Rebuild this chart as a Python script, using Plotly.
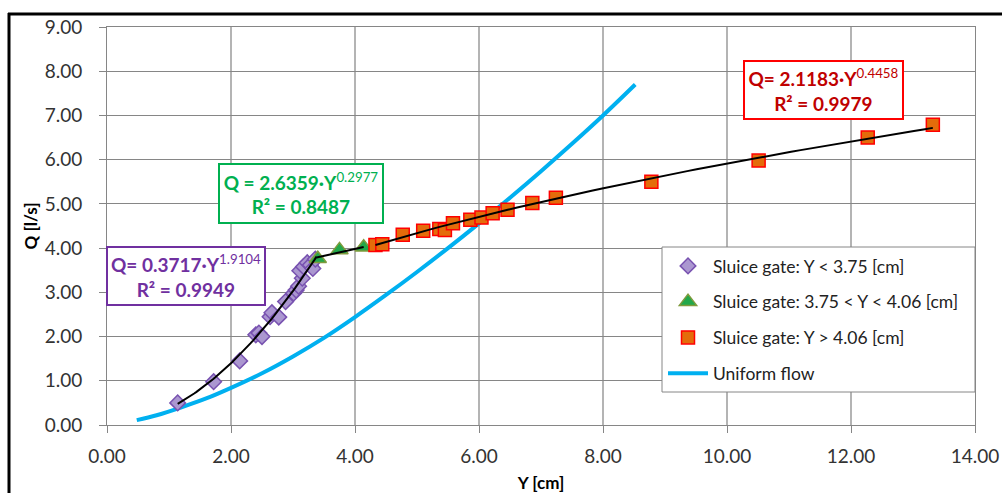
import numpy as np
import plotly.graph_objects as go

# ---- measured data -------------------------------------------------------
# Sluice gate, Y < 3.75 cm
low_y = [1.14, 1.72, 2.14, 2.40, 2.45, 2.50, 2.63, 2.66, 2.77, 2.88, 3.01,
         3.05, 3.09, 3.15, 3.11, 3.17, 3.23, 3.28, 3.32, 3.36]
low_q = [0.50, 0.98, 1.45, 2.04, 2.08, 2.00, 2.45, 2.54, 2.44, 2.79, 2.98,
         3.05, 3.14, 3.32, 3.49, 3.58, 3.67, 3.62, 3.54, 3.75]

# Sluice gate, 3.75 < Y < 4.06 cm
mid_y = [3.40, 3.75, 4.14]
mid_q = [3.76, 3.96, 4.02]

# Sluice gate, Y > 4.06 cm
high_y = [4.33, 4.44, 4.77, 5.10, 5.36, 5.45, 5.58, 5.86, 6.04, 6.22, 6.46,
          6.86, 7.24, 8.78, 10.51, 12.27, 13.32]
high_q = [4.07, 4.09, 4.30, 4.39, 4.43, 4.41, 4.56, 4.64, 4.69, 4.79, 4.87,
          5.02, 5.14, 5.50, 5.98, 6.50, 6.79]

# Uniform flow curve
uni_y = [0.48, 0.80, 1.20, 1.60, 2.00, 2.50, 3.00, 3.50, 4.00, 4.50, 5.00,
         5.50, 6.00, 6.50, 7.00, 7.50, 8.00, 8.52]
uni_q = [0.11, 0.22, 0.40, 0.60, 0.84, 1.17, 1.55, 1.97, 2.44, 2.94, 3.46,
         4.00, 4.56, 5.14, 5.74, 6.36, 7.00, 7.70]

# Power-law fits Q = a * Y^b  (a, b, R², fitted Y range)
fit_low = (0.3717, 1.9104, 0.9949, 1.14, 3.38)
fit_mid = (2.6359, 0.2977, 0.8487, 3.38, 4.14)
fit_high = (2.1183, 0.4458, 0.9979, 4.33, 13.32)

FONT = "Lato, 'Open Sans', sans-serif"

# plot-area geometry in pixels (used to place boxes on the page)
W, H = 1002, 493
L, R, T, B = 107, 975, 27, 425


def px_x(p):
    return (p - L) / (R - L)


def px_y(p):
    return (B - p) / (B - T)


fig = go.Figure()

fig.add_trace(go.Scatter(
    x=uni_y, y=uni_q, mode="lines", name="Uniform flow",
    line=dict(color="#00b0f0", width=4, shape="spline"),
    legendgroup="d", legendrank=4))

fig.add_trace(go.Scatter(
    x=low_y, y=low_q, mode="markers", name="Sluice gate: Y < 3.75 [cm]",
    marker=dict(symbol="diamond", size=12, color="#ab97d0",
                line=dict(color="#7852b0", width=1.5)),
    legendgroup="a", legendrank=1))

fig.add_trace(go.Scatter(
    x=mid_y, y=mid_q, mode="markers", name="Sluice gate: 3.75 < Y < 4.06 [cm]",
    marker=dict(symbol="triangle-up", size=15, color="#22a84a",
                line=dict(color="#7f9a3c", width=1.5)),
    legendgroup="b", legendrank=2))

fig.add_trace(go.Scatter(
    x=high_y, y=high_q, mode="markers", name="Sluice gate: Y > 4.06 [cm]",
    marker=dict(symbol="square", size=13, color="#e46c0a",
                line=dict(color="#ff0000", width=1.5)),
    legendgroup="c", legendrank=3))

# trend lines drawn from the fitted equations
for a, b, _, y0, y1 in (fit_low, fit_mid, fit_high):
    ys = np.linspace(y0, y1, 60)
    fig.add_trace(go.Scatter(
        x=ys, y=a * ys ** b, mode="lines", showlegend=False,
        line=dict(color="black", width=2), hoverinfo="skip"))


def eq_text(a, b, r2, gap=""):
    return (f"<b>Q{gap}= {a:.4f}·Y</b><sup>{b:.4f}</sup><br>"
            f"<b>R² = {r2:.4f}</b>")


boxes = [
    (fit_low, "#7030a0", "#7030a0", (106, 266, 246, 306), ""),
    (fit_mid, "#00b050", "#00b050", (218, 384, 163, 224), " "),
    (fit_high, "#c00000", "#ff0000", (743, 904, 60, 120), ""),
]
for (a, b, r2, _, _), tcol, bcol, (x0, x1, y0, y1), gap in boxes:
    fig.add_annotation(
        x=px_x((x0 + x1) / 2), y=px_y((y0 + y1) / 2),
        xref="paper", yref="paper", xanchor="center", yanchor="middle",
        showarrow=False,
        text=eq_text(a, b, r2, gap), align="center",
        font=dict(family=FONT, size=19, color=tcol),
        width=x1 - x0 - 4, height=y1 - y0 - 4, borderpad=0,
        bordercolor=bcol, borderwidth=2, bgcolor="white")

# legend frame
fig.add_shape(type="rect", xref="paper", yref="paper",
              x0=px_x(662), x1=px_x(975), y0=px_y(392), y1=px_y(247),
              fillcolor="white", line=dict(color="#868686", width=1),
              layer="above")

# outer chart frame: top and left edges only reach into the page
fig.add_shape(type="line", xref="paper", yref="paper",
              x0=px_x(8), x1=px_x(1002), y0=px_y(14), y1=px_y(14),
              line=dict(color="black", width=3), layer="above")
fig.add_shape(type="line", xref="paper", yref="paper",
              x0=px_x(9), x1=px_x(9), y0=px_y(493), y1=px_y(13),
              line=dict(color="black", width=3), layer="above")

axis_common = dict(
    showgrid=True, zeroline=False, showline=True, mirror=True,
    linecolor="#868686", linewidth=1, automargin=False,
    ticks="outside", ticklen=7, tickcolor="#868686", tickformat=".2f",
    tickfont=dict(family=FONT, size=19, color="#333333"),
)

fig.update_xaxes(range=[0, 14], dtick=2, tick0=0,
                 gridcolor="#b4b4b4", gridwidth=1.5, ticklabelstandoff=7,
                 title=dict(text="<b>Y [cm]</b>", standoff=25,
                            font=dict(family=FONT, size=17, color="black")),
                 **axis_common)
fig.update_yaxes(range=[0, 9], dtick=1, tick0=0,
                 gridcolor="#868686", gridwidth=1, ticklabelstandoff=13,
                 title=dict(text="<b>Q [l/s]</b>", standoff=2,
                            font=dict(family=FONT, size=17, color="black")),
                 **axis_common)

fig.update_layout(
    width=W, height=H,
    margin=dict(l=L, r=W - R, t=T, b=H - B, autoexpand=False),
    paper_bgcolor="white", plot_bgcolor="white",
    font=dict(family=FONT),
    showlegend=True,
    legend=dict(x=px_x(663), y=px_y(248), xanchor="left", yanchor="top",
                bgcolor="rgba(0,0,0,0)", borderwidth=0,
                itemwidth=40, tracegroupgap=10, traceorder="grouped",
                font=dict(family=FONT, size=17.5, color="#222222")),
)

fig.write_html("out.html")
